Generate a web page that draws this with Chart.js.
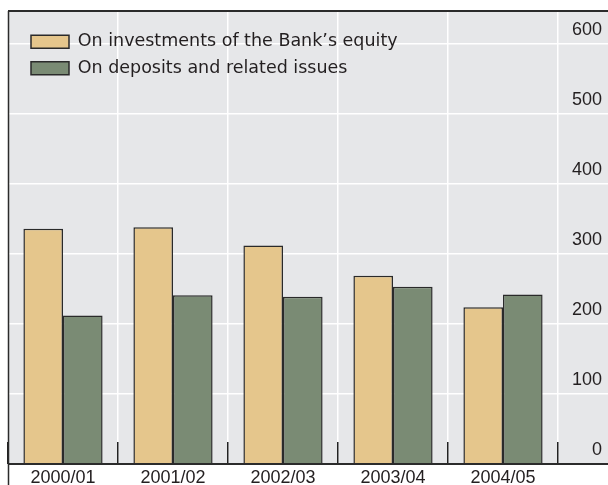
<!DOCTYPE html>
<html>
<head>
<meta charset="utf-8">
<script src="https://cdn.jsdelivr.net/npm/chart.js@4/dist/chart.umd.min.js"></script>
<style>
  html, body { margin: 0; padding: 0; background: #fff; }
  #wrap { width: 608px; height: 485px; position: relative; }
</style>
</head>
<body>
<div id="wrap"><canvas id="chart"></canvas></div>
<script>
// data
const years = ['2000/01', '2001/02', '2002/03', '2003/04', '2004/05'];
const onEquity = [336, 338, 312, 269, 224];
const onDeposits = [212, 241, 239, 253, 242];
const seriesNames = ['On investments of the Bank\u2019s equity', 'On deposits and related issues'];
const yTicks = [0, 100, 200, 300, 400, 500, 600];

const colorTan = '#e5c68c';
const colorGreen = '#7a8b74';
const colorPlot = '#e6e7e9';
const colorInk = '#231f20';
const fontFamily = '"Liberation Sans", Arial, sans-serif';
const legendFamily = '"DejaVu Sans", "Liberation Sans", sans-serif';

// gray plot panel + dark frame lines that run past the chart area
const frame = {
  id: 'frame',
  afterLayout(chart) {
    // a chartArea legend starts at top 0; nudge it to where the original sits
    chart.legend.left += 14;
    chart.legend.right += 14;
    chart.legend.top += 24;
    chart.legend.bottom += 24;
  },
  beforeDraw(chart) {
    const { ctx, chartArea, width } = chart;
    ctx.save();
    ctx.fillStyle = '#fff';
    ctx.fillRect(0, 0, width, chart.height);
    ctx.fillStyle = colorPlot;
    ctx.fillRect(chartArea.left, chartArea.top, width - chartArea.left, chartArea.bottom - chartArea.top);
    ctx.restore();
  },
  afterDraw(chart) {
    const { ctx, chartArea, width, height } = chart;
    ctx.save();
    ctx.strokeStyle = '#2b2b2b';
    ctx.lineWidth = 2;
    ctx.beginPath();
    ctx.moveTo(chartArea.left, chartArea.top);
    ctx.lineTo(width, chartArea.top);
    ctx.moveTo(chartArea.left, chartArea.bottom);
    ctx.lineTo(width, chartArea.bottom);
    ctx.stroke();
    ctx.lineWidth = 1.5;
    ctx.beginPath();
    ctx.moveTo(chartArea.left + 0.5, chartArea.top);
    ctx.lineTo(chartArea.left + 0.5, height);
    ctx.stroke();
    ctx.restore();
  }
};

new Chart(document.getElementById('chart'), {
  type: 'bar',
  data: {
    labels: years,
    datasets: [
      {
        label: seriesNames[0],
        data: onEquity,
        backgroundColor: colorTan,
        borderColor: '#2a2a2a',
        borderWidth: 1.5,
        borderSkipped: 'start'
      },
      {
        label: seriesNames[1],
        data: onDeposits,
        backgroundColor: colorGreen,
        borderColor: '#2a2a2a',
        borderWidth: 1.5,
        borderSkipped: 'start'
      }
    ]
  },
  plugins: [frame],
  options: {
    responsive: true,
    maintainAspectRatio: false,
    animation: false,
    categoryPercentage: 0.72,
    barPercentage: 1,
    layout: { padding: { left: 8, top: 11, right: 6, bottom: 0 } },
    plugins: {
      tooltip: { enabled: false },
      legend: {
        position: 'chartArea',
        align: 'start',
        labels: {
          color: colorInk,
          font: { family: legendFamily, size: 17.5 },
          boxWidth: 38,
          boxHeight: 13,
          padding: 9
        }
      }
    },
    scales: {
      x: {
        afterFit(scale) { scale.height = 21; },
        border: { display: false },
        grid: {
          offset: true,
          color: '#ffffff',
          lineWidth: 1.5,
          drawTicks: true,
          tickLength: -22,
          tickColor: '#222222',
          tickWidth: 1.5
        },
        ticks: {
          color: colorInk,
          font: { family: fontFamily, size: 18 },
          padding: 25,
          maxRotation: 0
        }
      },
      y: {
        position: 'right',
        min: 0,
        max: 647,
        afterFit(scale) { scale.width = 44; },
        afterBuildTicks(scale) { scale.ticks = yTicks.map(v => ({ value: v })); },
        border: { display: false },
        grid: {
          color: '#ffffff',
          lineWidth: 1.5,
          drawTicks: true,
          tickLength: 50,
          tickColor: '#ffffff',
          tickWidth: 1.5
        },
        ticks: {
          color: colorInk,
          font: { family: fontFamily, size: 18 },
          crossAlign: 'far',
          padding: -34,
          labelOffset: -14,
          includeBounds: false
        }
      }
    }
  }
});
</script>
</body>
</html>
